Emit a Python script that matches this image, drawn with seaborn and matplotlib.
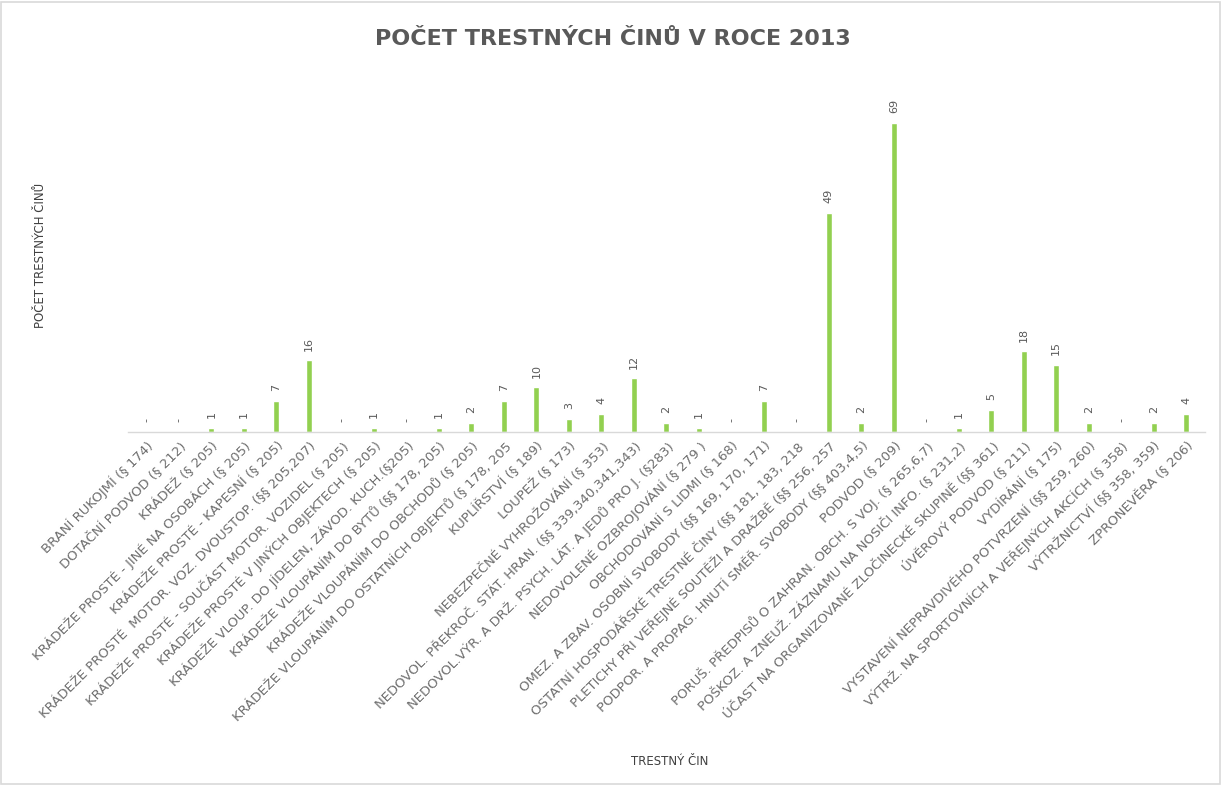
import matplotlib
matplotlib.use("Agg")
import matplotlib.pyplot as plt
import seaborn as sns
import pandas as pd
from matplotlib.patches import Rectangle

categories = [
    "BRANÍ RUKOJMÍ (§ 174)",
    "DOTAČNÍ PODVOD (§ 212)",
    "KRÁDEŽ (§ 205)",
    "KRÁDEŽE PROSTÉ - JINÉ NA OSOBÁCH (§ 205)",
    "KRÁDEŽE PROSTÉ - KAPESNÍ (§ 205)",
    "KRÁDEŽE PROSTÉ  MOTOR. VOZ. DVOUSTOP. (§§ 205,207)",
    "KRÁDEŽE PROSTÉ - SOUČÁST MOTOR. VOZIDEL (§ 205)",
    "KRÁDEŽE PROSTÉ V JINÝCH OBJEKTECH (§ 205)",
    "KRÁDEŽE VLOUP. DO JÍDELEN, ZÁVOD. KUCH.(§205)",
    "KRÁDEŽE VLOUPÁNÍM DO BYTŮ (§§ 178, 205)",
    "KRÁDEŽE VLOUPÁNÍM DO OBCHODŮ (§ 205)",
    "KRÁDEŽE VLOUPÁNÍM DO OSTATNÍCH OBJEKTŮ (§ 178, 205",
    "KUPLÍŘSTVÍ (§ 189)",
    "LOUPEŽ (§ 173)",
    "NEBEZPEČNÉ VYHROŽOVÁNÍ (§ 353)",
    "NEDOVOL. PŘEKROČ. STÁT. HRAN. (§§ 339,340,341,343)",
    "NEDOVOL.VÝR. A DRŽ. PSYCH. LÁT. A JEDŮ PRO J. (§283)",
    "NEDOVOLENÉ OZBROJOVÁNÍ (§ 279 )",
    "OBCHODOVÁNÍ S LIDMI (§ 168)",
    "OMEZ. A ZBAV. OSOBNÍ SVOBODY (§§ 169, 170, 171)",
    "OSTATNÍ HOSPODÁŘSKÉ TRESTNÉ ČINY (§§ 181, 183, 218",
    "PLETICHY PŘI VEŘEJNÉ SOUTĚŽI A DRAŽBĚ (§§ 256, 257",
    "PODPOR. A PROPAG. HNUTÍ SMĚŘ. SVOBODY (§§ 403,4,5)",
    "PODVOD (§ 209)",
    "PORUŠ. PŘEDPISŮ O ZAHRAN. OBCH. S VOJ. (§ 265,6,7)",
    "POŠKOZ. A ZNEUŽ. ZÁZNAMU NA NOSIČI INFO. (§ 231,2)",
    "ÚČAST NA ORGANIZOVANÉ ZLOČINECKÉ SKUPINĚ (§§ 361)",
    "ÚVĚROVÝ PODVOD (§ 211)",
    "VYDÍRÁNÍ (§ 175)",
    "VYSTAVENÍ NEPRAVDIVÉHO POTVRZENÍ (§§ 259, 260)",
    "VÝTRŽ. NA SPORTOVNÍCH A VEŘEJNÝCH AKCÍCH (§ 358)",
    "VÝTRŽNICTVÍ (§§ 358, 359)",
    "ZPRONEVĚRA (§ 206)",
]
values = [0, 0, 1, 1, 7, 16, 0, 1, 0, 1, 2, 7, 10, 3, 4, 12, 2, 1, 0, 7,
          0, 49, 2, 69, 0, 1, 5, 18, 15, 2, 0, 2, 4]

title = "POČET TRESTNÝCH ČINŮ V ROCE 2013"
ylabel = "POČET TRESTNÝCH ČINŮ"
xlabel = "TRESTNÝ ČIN"

sns.set_theme(style="white")
plt.rcParams['font.family'] = ['DejaVu Sans']

df = pd.DataFrame({"cat": categories, "val": values})

fig = plt.figure(figsize=(12.26, 7.87), dpi=100)
ax = fig.add_axes([0.104, 0.451, 0.879, 0.455])
sns.barplot(data=df, x="cat", y="val", color="#92D050", width=0.19,
            saturation=1, ax=ax)
ax.set_ylim(0, 80)
ax.set_xlim(-0.58, len(categories) - 0.42)
ax.set_yticks([])
for s in ["top", "right", "left"]:
    ax.spines[s].set_visible(False)
ax.spines["bottom"].set_color("#D9D9D9")
ax.spines["bottom"].set_linewidth(1)
ax.tick_params(axis="x", length=0, pad=5)
ax.set_xticks(range(len(categories)))
ax.set_xticklabels(categories, rotation=45, ha="right", rotation_mode="anchor",
                   fontsize=9.5, color="#6e6e6e")
ax.set_xlabel("")
ax.set_ylabel("")

for i, v in enumerate(values):
    lab = str(v) if v > 0 else "-"
    ax.annotate(lab, (i, v), xytext=(0, 7), textcoords="offset points",
                rotation=90, ha="center", va="bottom", fontsize=8,
                color="#595959")

fig.text(0.5, 0.951, title, ha="center", va="center", fontsize=16,
         fontweight="bold", color="#595959")
fig.text(0.033, 0.676, ylabel, rotation=90, ha="center", va="center",
         fontsize=8.5, color="#404040")
fig.text(0.546, 0.032, xlabel, ha="center", va="center", fontsize=8.5,
         color="#404040")

fig.patches.append(Rectangle((0.001, 0.004), 0.994, 0.993, transform=fig.transFigure,
                             fill=False, edgecolor="#D9D9D9", linewidth=1.2))

fig.savefig("out.png", dpi=100, facecolor="white")
